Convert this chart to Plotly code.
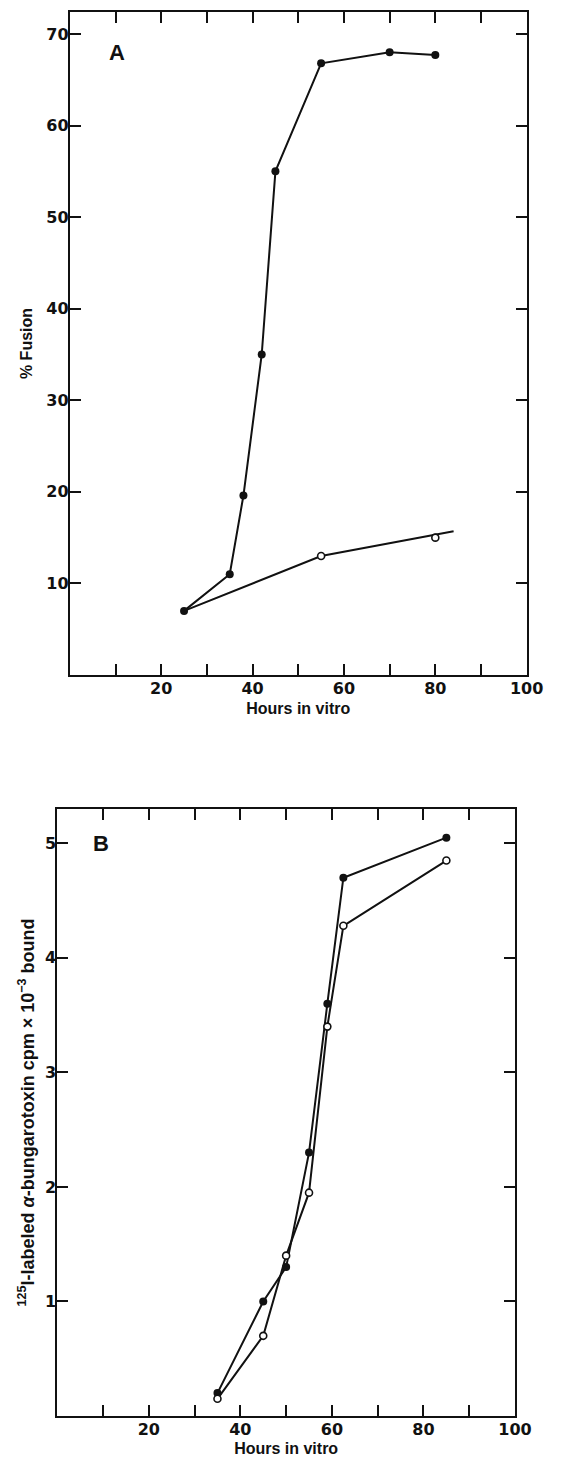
import plotly.graph_objects as go

# ---------------- data ----------------
# Panel A: % fusion vs hours in vitro
hours_a_filled = [25, 35, 38, 42, 45, 55, 70, 80]
fusion_a_filled = [7, 11, 19.6, 35, 55, 66.8, 68, 67.7]
hours_a_open = [55, 80]
fusion_a_open = [13, 15]
hours_a_open_line = [25, 55, 84]
fusion_a_open_line = [7, 13, 15.7]

# Panel B: 125I-labeled alpha-bungarotoxin bound
hours_b = [35, 45, 50, 55, 59, 62.5, 85]
btx_b_filled = [0.2, 1.0, 1.3, 2.3, 3.6, 4.7, 5.05]
btx_b_open = [0.15, 0.7, 1.4, 1.95, 3.4, 4.28, 4.85]

# ticks
x_tickvals = [20, 40, 60, 80, 100]
x_ticktext = ["20", "40", "60", "80", "100"]
x_minor_vals = [10, 30, 50, 70, 90]
ya_tickvals = [10, 20, 30, 40, 50, 60, 70]
ya_ticktext = ["10", "20", "30", "40", "50", "60", "70"]
yb_tickvals = [1, 2, 3, 4, 5]
yb_ticktext = ["1", "2", "3", "4", "5"]

W, H = 566, 1460
INK = "#111111"
LINE_W = 2
TICK_FONT = dict(family="DejaVu Sans", size=16, color=INK, weight="bold")
TITLE_FONT = dict(family="Liberation Sans", size=16, color=INK, weight="bold")

fig = go.Figure()

# ---- Panel A ----
fig.add_trace(go.Scatter(x=hours_a_open_line, y=fusion_a_open_line, mode="lines",
                         line=dict(color=INK, width=LINE_W), xaxis="x", yaxis="y",
                         showlegend=False, hoverinfo="skip"))
fig.add_trace(go.Scatter(x=hours_a_open, y=fusion_a_open, mode="markers",
                         marker=dict(symbol="circle", size=7, color="white",
                                     line=dict(color=INK, width=1.6)),
                         xaxis="x", yaxis="y", showlegend=False))
fig.add_trace(go.Scatter(x=hours_a_filled, y=fusion_a_filled, mode="lines+markers",
                         line=dict(color=INK, width=LINE_W),
                         marker=dict(symbol="circle", size=8, color=INK),
                         xaxis="x", yaxis="y", showlegend=False))

# ---- Panel B ----
fig.add_trace(go.Scatter(x=hours_b, y=btx_b_filled, mode="lines+markers",
                         line=dict(color=INK, width=LINE_W),
                         marker=dict(symbol="circle", size=8, color=INK),
                         xaxis="x2", yaxis="y2", showlegend=False))
fig.add_trace(go.Scatter(x=hours_b, y=btx_b_open, mode="lines+markers",
                         line=dict(color=INK, width=LINE_W),
                         marker=dict(symbol="circle", size=7, color="white",
                                     line=dict(color=INK, width=1.6)),
                         xaxis="x2", yaxis="y2", showlegend=False))


def px_dom_x(a, b):
    return [a / W, b / W]


def px_dom_y(top, bottom):
    return [1 - bottom / H, 1 - top / H]


common = dict(showline=True, linewidth=2, linecolor=INK, mirror="ticks",
              ticks="inside", ticklen=11, tickwidth=2, tickcolor=INK,
              showgrid=False, zeroline=False, tickfont=TICK_FONT, fixedrange=True)
x_minor = dict(tickmode="array", tickvals=x_minor_vals, ticks="inside",
               ticklen=11, tickwidth=2, tickcolor=INK, showgrid=False)

fig.update_layout(
    width=W, height=H,
    margin=dict(l=0, r=0, t=0, b=0),
    paper_bgcolor="white", plot_bgcolor="white",
    xaxis=dict(domain=px_dom_x(72, 543), range=[0, 100], anchor="y",
               tickmode="array", tickvals=x_tickvals, ticktext=x_ticktext,
               minor=x_minor, ticklabelstandoff=-2,
               title=dict(text="Hours in vitro", font=TITLE_FONT, standoff=6),
               **common),
    yaxis=dict(domain=px_dom_y(12, 675), range=[0, 72.4], anchor="x",
               tickmode="array", tickvals=ya_tickvals, ticktext=ya_ticktext,
               ticklabelstandoff=-4,
               title=dict(text="% Fusion", font=TITLE_FONT, standoff=10),
               **common),
    xaxis2=dict(domain=px_dom_x(59, 531), range=[0, 100], anchor="y2",
                tickmode="array", tickvals=x_tickvals, ticktext=x_ticktext,
                minor=x_minor, ticklabelstandoff=-2,
                title=dict(text="Hours in vitro", font=TITLE_FONT, standoff=5),
                **common),
    yaxis2=dict(domain=px_dom_y(809, 1416), range=[0, 5.3], anchor="x2",
                tickmode="array", tickvals=yb_tickvals, ticktext=yb_ticktext,
                ticklabelstandoff=-4,
                title=dict(text="<sup>125</sup>I-labeled <i>α</i>-bungarotoxin cpm × 10<sup>−3</sup> bound",
                           font=dict(family="Liberation Sans", size=18, color=INK, weight="bold"),
                           standoff=6),
                **common),
    annotations=[
        dict(text="A", x=10.3, y=68, xref="x", yref="y", showarrow=False,
             font=dict(family="Liberation Sans", size=22, color=INK, weight="bold")),
        dict(text="B", x=9.6, y=5.0, xref="x2", yref="y2", showarrow=False,
             font=dict(family="Liberation Sans", size=22, color=INK, weight="bold")),
    ],
)

fig.write_html("out.html")
